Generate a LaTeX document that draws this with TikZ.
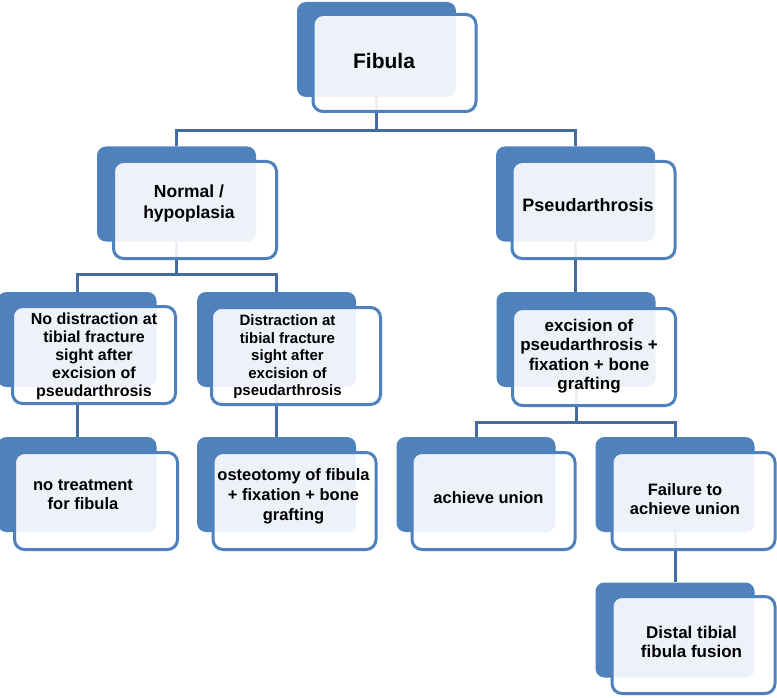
\documentclass[tikz,border=0pt]{standalone}
\usepackage{fontspec}
\setmainfont{Liberation Sans}
\definecolor{boxblue}{RGB}{79,129,189}
\definecolor{linkblue}{RGB}{68,108,160}
\tikzset{
  backbox/.style={rectangle, rounded corners=9pt, fill=boxblue, draw=none,
    minimum width=159pt, minimum height=95pt, inner sep=0pt},
  frontbox/.style={rectangle, rounded corners=10pt, fill=white, fill opacity=0.9,
    draw=boxblue, draw opacity=1, line width=3pt,
    minimum width=163pt, minimum height=97pt, inner sep=0pt},
  label/.style={align=center, inner sep=0pt, font=\bfseries},
  conn/.style={draw=linkblue, line width=3pt}
}
\newcommand{\fs}[2]{\fontsize{#1pt}{#2pt}\selectfont}
\begin{document}
\begin{tikzpicture}[x=1pt,y=-1pt]
\fill[white] (0,0) rectangle (777,698);
\useasboundingbox (0,0) rectangle (777,698);
% back boxes (positions only, needed for connectors)
\path
  (376.5,49.5) coordinate (pfib)
  (176.5,194) coordinate (pnor)
  (575.5,194) coordinate (ppse)
  (77,339.5) coordinate (pnod)
  (276.5,339.5) coordinate (pdis)
  (576,339.5) coordinate (pexc)
  (77,484.5) coordinate (pnot)
  (276.5,484.5) coordinate (post)
  (476,484.5) coordinate (pach)
  (675,484.5) coordinate (pfai)
  (675,630) coordinate (pdtf);
\node[backbox, opacity=0] (fibB) at (pfib) {};
\node[backbox, opacity=0] (norB) at (pnor) {};
\node[backbox, opacity=0] (pseB) at (ppse) {};
\node[backbox, opacity=0] (nodB) at (pnod) {};
\node[backbox, opacity=0] (disB) at (pdis) {};
\node[backbox, opacity=0] (excB) at (pexc) {};
\node[backbox, opacity=0] (notB) at (pnot) {};
\node[backbox, opacity=0] (ostB) at (post) {};
\node[backbox, opacity=0] (achB) at (pach) {};
\node[backbox, opacity=0] (faiB) at (pfai) {};
\node[backbox, opacity=0] (dtfB) at (pdtf) {};
% connectors (behind boxes)
\draw[conn] (fibB.south) -- ++(0,33) coordinate (j1) -| (norB.north);
\draw[conn] (j1) -| (pseB.north);
\draw[conn] (norB.south) -- ++(0,33) coordinate (j2) -| (nodB.north);
\draw[conn] (j2) -| (disB.north);
\draw[conn] (pseB.south) -- (pseB.south |- excB.north);
\draw[conn] (excB.south) -- ++(0,35) coordinate (j3) -| (achB.north);
\draw[conn] (j3) -| (faiB.north);
\draw[conn] (nodB.south) -- (nodB.south |- notB.north);
\draw[conn] (disB.south) -- (disB.south |- ostB.north);
\draw[conn] (faiB.south) -- (faiB.south |- dtfB.north);
% visible back boxes
\foreach \p in {pfib,pnor,ppse,pnod,pdis,pexc,pnot,post,pach,pfai,pdtf}
  \node[backbox] at (\p) {};
% front boxes
\node[frontbox] (fibF) at (394.5,63) {};
\node[frontbox] (norF) at (195,210) {};
\node[frontbox] (pseF) at (593.5,210) {};
\node[frontbox] (nodF) at (94,355) {};
\node[frontbox, minimum width=169pt] (disF) at (296,356) {};
\node[frontbox] (excF) at (594,357) {};
\node[frontbox] (notF) at (96,501) {};
\node[frontbox] (ostF) at (294.5,501) {};
\node[frontbox] (achF) at (493.5,501) {};
\node[frontbox] (faiF) at (693.5,501) {};
\node[frontbox] (dtfF) at (693.5,645) {};
% labels
\node[label, font=\bfseries\fs{21}{24}] (fibT) at (384,61) {Fibula};
\node[label, font=\bfseries\fs{17.5}{21}] (norT) at (189,203) {Normal /\\hypoplasia};
\node[label, font=\bfseries\fs{18}{21}] (pseT) at (588,205) {Pseudarthrosis};
\node[label, font=\bfseries\fs{16}{18}] (nodT) at (94,356) {No distraction at\\tibial fracture\\sight after\\excision of\\pseudarthrosis};
\node[label, font=\bfseries\fs{15}{17.5}] (disT) at (287.5,357) {Distraction at\\tibial fracture\\sight after\\excision of\\pseudarthrosis};
\node[label, font=\bfseries\fs{17}{19.5}] (excT) at (589,356) {excision of\\pseudarthrosis +\\fixation + bone\\grafting};
\node[label, font=\bfseries\fs{16.5}{19}] (notT) at (83,495) {no treatment\\for fibula};
\node[label, font=\bfseries\fs{16.5}{20}] (ostT) at (293.5,496) {osteotomy of fibula\\+ fixation + bone\\grafting};
\node[label, font=\bfseries\fs{16.5}{19}] (achT) at (488.5,498) {achieve union};
\node[label, font=\bfseries\fs{16.5}{19}] (faiT) at (685,499) {Failure to\\achieve union};
\node[label, font=\bfseries\fs{17}{19}] (dtfT) at (691.5,642) {Distal tibial\\fibula fusion};
\end{tikzpicture}
\end{document}
